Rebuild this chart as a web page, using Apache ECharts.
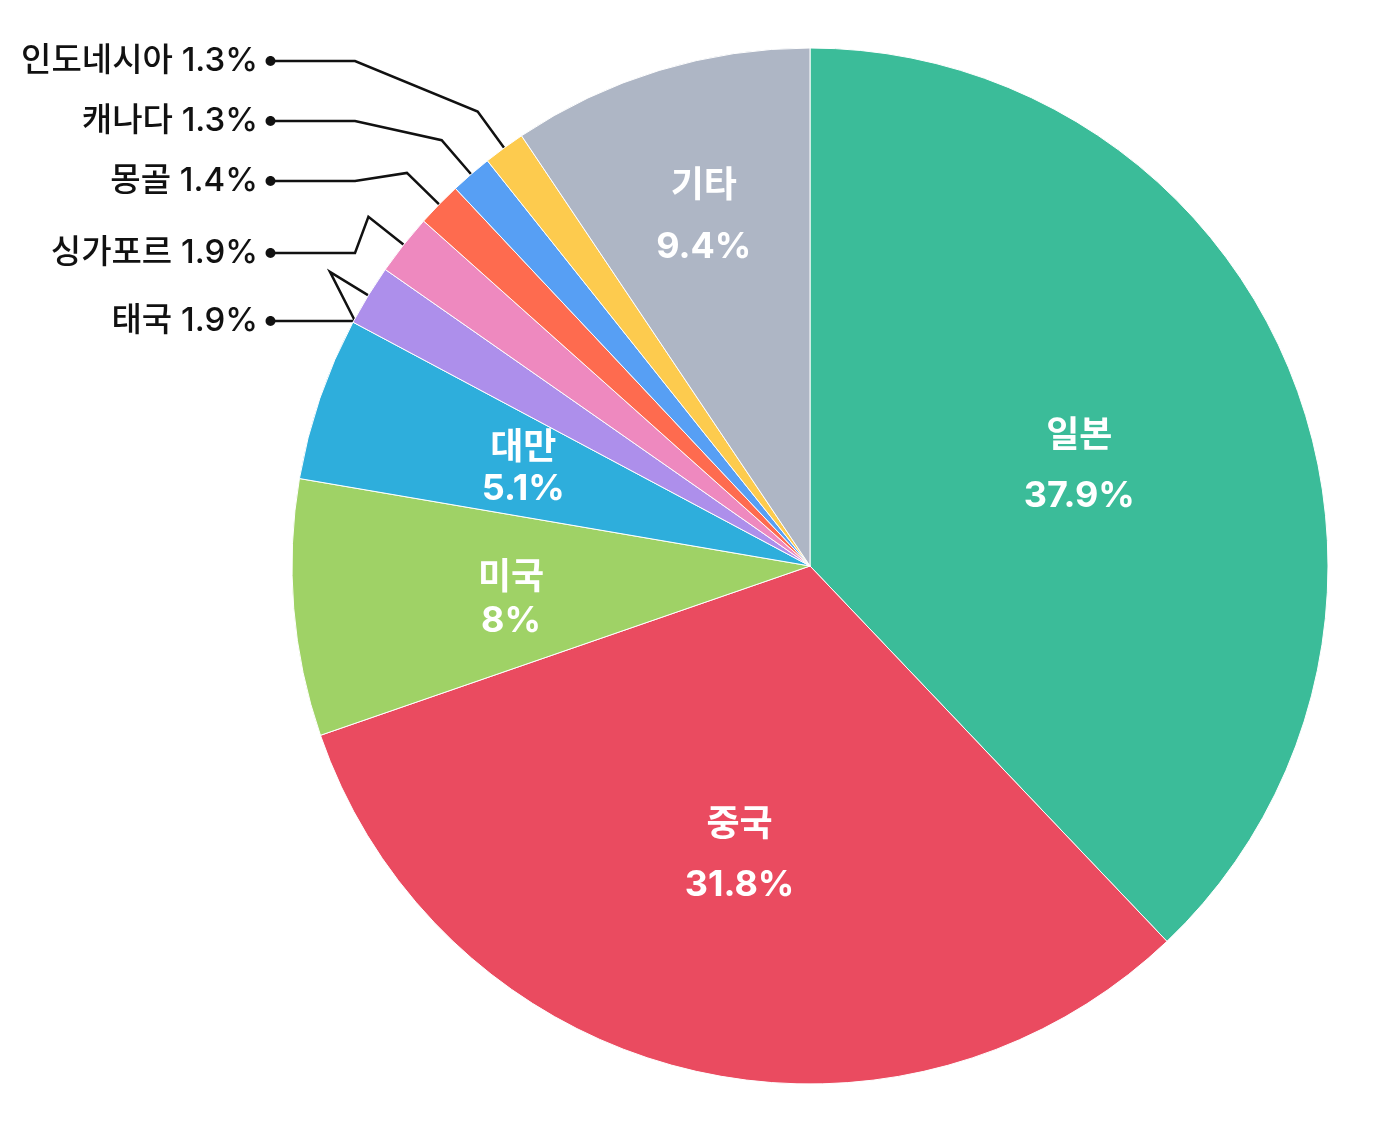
<!DOCTYPE html>
<html>
<head>
<meta charset="utf-8">
<script src="https://cdn.jsdelivr.net/npm/echarts@6/dist/echarts.min.js"></script>
<style>
html, body { margin: 0; background: #fff; }
#chart { width: 1374px; height: 1145px; }
</style>
</head>
<body>
<div id="chart"></div>
<script>
// 국가별 비중 (%)
var countries = ['일본', '중국', '미국', '대만', '태국', '싱가포르', '몽골', '캐나다', '인도네시아', '기타'];
var shares = [37.9, 31.8, 8, 5.1, 1.9, 1.9, 1.4, 1.3, 1.3, 9.4];
var sliceColors = ['#3BBC99', '#EA4B60', '#9FD266', '#2EAEDC', '#AD8FEB', '#EE89BF', '#FE6B4F', '#579FF4', '#FDCB4E', '#AEB6C5'];
var outsideNames = ['태국', '싱가포르', '몽골', '캐나다', '인도네시아'];

var cx = 810, cy = 566, R = 518;
var labelFont = 'Inter, "Noto Sans CJK KR", sans-serif';
// 바깥 라벨 줄 위치
var outsideRowY = { '태국': 321, '싱가포르': 253, '몽골': 181, '캐나다': 121, '인도네시아': 61 };
// 안쪽 라벨 중심까지 거리 / 세로 보정
var insideDist = { '일본': 290, '중국': 298, '미국': 300, '대만': 303, '기타': 365 };
var insideNudge = { '일본': 8, '중국': 0, '미국': 9, '대만': 1, '기타': 0 };
var insideLineH = { '일본': 60, '중국': 60, '미국': 43, '대만': 41, '기타': 61 };

var pieData = countries.map(function (name, i) {
  var outside = outsideNames.indexOf(name) >= 0;
  var item = { name: name, value: shares[i], itemStyle: { color: sliceColors[i] } };
  if (outside) {
    item.label = {
      position: 'outside',
      formatter: function (p) { return '{t|' + p.name + ' ' + p.value + '%}{dot|●}'; },
      rich: {
        t: { fontSize: 33, fontWeight: 500, color: '#111', fontFamily: labelFont },
        dot: { fontSize: 11, color: '#111', padding: [0, 0, 0, 7], fontFamily: '"Noto Sans CJK KR"' }
      }
    };
    item.labelLine = { show: true, length: 45, length2: 20, lineStyle: { color: '#111', width: 2.5 } };
  } else {
    item.label = {
      position: 'inside',
      formatter: '{b}\n{c}%',
      color: '#fff',
      fontSize: 36,
      fontWeight: 'bold',
      lineHeight: insideLineH[name],
      fontFamily: labelFont
    };
    item.labelLine = { show: false };
  }
  return item;
});

var chart = echarts.init(document.getElementById('chart'));
chart.setOption({
  backgroundColor: '#fff',
  animation: false,
  series: [{
    type: 'pie',
    center: [cx, cy],
    radius: R,
    startAngle: 90,
    clockwise: true,
    avoidLabelOverlap: false,
    itemStyle: { borderColor: '#fff', borderWidth: 1 },
    data: pieData,
    labelLayout: function (p) {
      var name = countries[p.dataIndex];
      var rowY = outsideRowY[name];
      var lr = p.labelRect;
      if (rowY === undefined) {
        var mx = lr.x + lr.width / 2 - cx, my = lr.y + lr.height / 2 - cy;
        var d = Math.sqrt(mx * mx + my * my) || 1;
        var k = insideDist[name] / d;
        return { x: cx + mx * k, y: cy + my * k + insideNudge[name], align: 'center', verticalAlign: 'middle' };
      }
      var edge = p.labelLinePoints[0];
      var ex = edge[0] - cx, ey = edge[1] - cy;
      var el = Math.sqrt(ex * ex + ey * ey);
      var bend = [edge[0] + ex / el * 45, edge[1] + ey / el * 45];
      return {
        x: 276, y: rowY, align: 'right', verticalAlign: 'middle',
        labelLinePoints: [edge, bend, [355, rowY], [270, rowY]]
      };
    }
  }]
});
</script>
</body>
</html>
